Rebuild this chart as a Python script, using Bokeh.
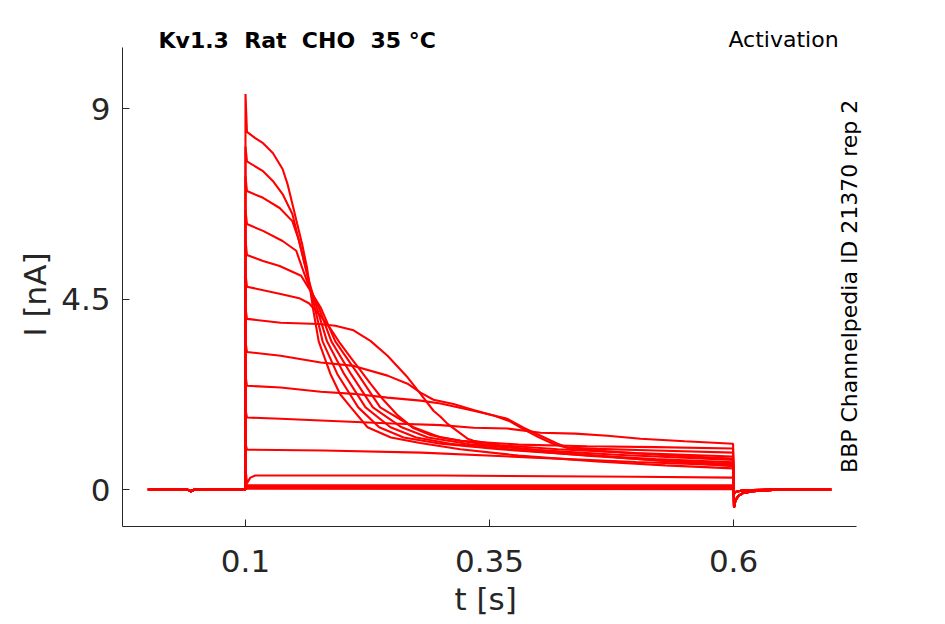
import math
from bokeh.plotting import figure
from bokeh.models import Range1d, FixedTicker, Label, Title
from bokeh.embed import file_html
from bokeh.resources import INLINE

# ---------------- data ----------------
X_TICKS = [0.1, 0.35, 0.6]
X_TICK_LABELS = ["0.1", "0.35", "0.6"]
Y_TICKS = [0, 4.5, 9]
Y_TICK_LABELS = ["0", "4.5", "9"]

# holding segment before the step (shared by all sweeps)
PRE_T = [0.0, 0.040, 0.044, 0.048, 0.0999]
PRE_I = [0.0, 0.0, -0.04, 0.0, 0.0]

# after the step back (t = 0.6 s)
POST_T = [0.6005, 0.602, 0.605, 0.610, 0.620, 0.640, 0.700]
POST_I_BIG = [-0.42, -0.25, -0.15, -0.08, -0.04, -0.01, 0.0]
POST_I_SMALL = [-0.10, -0.06, -0.04, -0.02, -0.01, 0.0, 0.0]

# sweeps during the step (t in s, I in nA)
S1_T = [0.1, 0.1015, 0.110, 0.118, 0.128, 0.138, 0.143, 0.148, 0.153, 0.158, 0.163, 0.169, 0.175, 0.187, 0.197, 0.208, 0.225, 0.249, 0.279, 0.32, 0.38, 0.46, 0.53, 0.5995]
S1_I = [9.34, 8.45, 8.30, 8.18, 7.95, 7.57, 7.22, 6.75, 6.27, 5.80, 5.24, 4.30, 3.50, 2.73, 2.25, 1.94, 1.47, 1.23, 1.10, 0.95, 0.80, 0.66, 0.57, 0.50]

S2_T = [0.1, 0.1015, 0.118, 0.128, 0.138, 0.148, 0.153, 0.158, 0.163, 0.171, 0.179, 0.194, 0.2155, 0.237, 0.262, 0.30, 0.36, 0.44, 0.52, 0.5995]
S2_I = [8.10, 7.75, 7.52, 7.29, 6.98, 6.51, 6.04, 5.57, 5.09, 4.30, 3.50, 2.73, 1.94, 1.47, 1.23, 1.08, 0.95, 0.82, 0.72, 0.64]

S3_T = [0.1, 0.1015, 0.118, 0.135, 0.148, 0.155, 0.160, 0.166, 0.173, 0.1835, 0.201, 0.223, 0.2485, 0.275, 0.31, 0.37, 0.45, 0.53, 0.5995]
S3_I = [7.40, 7.05, 6.89, 6.65, 6.34, 5.87, 5.40, 4.85, 4.30, 3.50, 2.73, 1.94, 1.47, 1.23, 1.08, 0.95, 0.80, 0.68, 0.60]

S4_T = [0.1, 0.1015, 0.118, 0.138, 0.152, 0.158, 0.165, 0.175, 0.188, 0.208, 0.2305, 0.26, 0.287, 0.33, 0.40, 0.48, 0.5995]
S4_I = [6.60, 6.27, 6.11, 5.87, 5.64, 5.24, 4.80, 4.30, 3.50, 2.73, 1.94, 1.47, 1.23, 1.07, 0.93, 0.82, 0.70]

S5_T = [0.1, 0.1015, 0.118, 0.135, 0.157, 0.165, 0.177, 0.192, 0.215, 0.238, 0.272, 0.30, 0.34, 0.41, 0.50, 0.5995]
S5_I = [5.90, 5.54, 5.40, 5.28, 5.05, 4.75, 4.30, 3.50, 2.73, 1.94, 1.47, 1.23, 1.08, 0.90, 0.72, 0.55]

S6_T = [0.1, 0.1015, 0.136, 0.155, 0.165, 0.177, 0.187, 0.197, 0.208, 0.218, 0.228, 0.240, 0.256, 0.272, 0.29, 0.32, 0.38, 0.45, 0.52, 0.5995]
S6_I = [5.10, 4.79, 4.62, 4.52, 4.40, 4.10, 3.80, 3.45, 3.11, 2.81, 2.50, 2.15, 1.75, 1.45, 1.28, 1.15, 1.06, 1.02, 1.00, 0.97]

S7_T = [0.1, 0.1015, 0.136, 0.175, 0.192, 0.2107, 0.228, 0.2455, 0.266, 0.2793, 0.2926, 0.2998, 0.307, 0.3275, 0.3336, 0.36, 0.42, 0.50, 0.5995]
S7_I = [4.30, 4.03, 3.94, 3.91, 3.87, 3.76, 3.51, 3.16, 2.65, 2.26, 1.86, 1.72, 1.55, 1.20, 1.15, 1.05, 0.95, 0.86, 0.78]

S8_T = [0.1, 0.1015, 0.136, 0.177, 0.211, 0.2455, 0.266, 0.2793, 0.2926, 0.3131, 0.3336, 0.355, 0.370, 0.385, 0.400, 0.415, 0.430, 0.47, 0.53, 0.5995]
S8_I = [3.50, 3.25, 3.16, 3.00, 2.92, 2.69, 2.50, 2.29, 2.12, 2.02, 1.88, 1.74, 1.62, 1.42, 1.24, 1.08, 0.98, 0.90, 0.81, 0.73]

S9_T = [0.1, 0.1015, 0.136, 0.177, 0.211, 0.2455, 0.2793, 0.2998, 0.3336, 0.3684, 0.3848, 0.4023, 0.4197, 0.4299, 0.46, 0.52, 0.5995]
S9_I = [2.70, 2.45, 2.41, 2.31, 2.26, 2.17, 2.10, 2.03, 1.86, 1.67, 1.46, 1.27, 1.08, 0.99, 0.96, 0.92, 0.87]

S10_T = [0.1, 0.1015, 0.136, 0.177, 0.25, 0.30, 0.3336, 0.3684, 0.4023, 0.4378, 0.4709, 0.5047, 0.55, 0.5995]
S10_I = [1.90, 1.70, 1.67, 1.63, 1.56, 1.52, 1.46, 1.44, 1.34, 1.32, 1.27, 1.20, 1.14, 1.08]

S11_T = [0.1, 0.1015, 0.18, 0.28, 0.39, 0.50, 0.5995]
S11_I = [1.10, 0.94, 0.92, 0.87, 0.76, 0.65, 0.57]

S12_T = [0.1, 0.1015, 0.105, 0.110, 0.30, 0.50, 0.5995]
S12_I = [0.50, 0.15, 0.28, 0.33, 0.33, 0.30, 0.28]

Z_T = [0.1, 0.1015, 0.5995]
Z1_I = [0.20, 0.10, 0.10]
Z2_I = [0.18, 0.08, 0.07]
Z3_I = [0.15, 0.06, 0.05]
Z4_I = [0.12, 0.04, 0.03]
Z5_I = [0.10, 0.02, 0.01]

BIG = [(S1_T, S1_I), (S2_T, S2_I), (S3_T, S3_I), (S4_T, S4_I), (S5_T, S5_I),
       (S6_T, S6_I), (S7_T, S7_I), (S8_T, S8_I), (S9_T, S9_I), (S10_T, S10_I)]
SMALL = [(S11_T, S11_I), (S12_T, S12_I), (Z_T, Z1_I), (Z_T, Z2_I), (Z_T, Z3_I),
         (Z_T, Z4_I), (Z_T, Z5_I)]

xs, ys = [], []
for t, i in BIG:
    xs.append(PRE_T + t + POST_T)
    ys.append(PRE_I + i + POST_I_BIG)
for t, i in SMALL:
    xs.append(PRE_T + t + POST_T)
    ys.append(PRE_I + i + POST_I_SMALL)

# ---------------- figure ----------------
FONT = "DejaVu Sans"
AX = "#262626"
NB = "\u00a0"
X_AXIS = (-0.026, 0.726)     # visible axis extent
Y_AXIS = (-0.874, 10.441)

# frame extended to the right and top so the annotation texts are not clipped;
# the axes themselves are limited with `bounds`.
p = figure(frame_width=748, frame_height=506,
           min_border_left=122, min_border_top=20, min_border_right=50, min_border_bottom=10,
           x_range=Range1d(X_AXIS[0], 0.7403), y_range=Range1d(Y_AXIS[0], 11.079),
           output_backend="svg", toolbar_location=None)

p.multi_line(xs=xs, ys=ys, line_color="#ff0000", line_width=2.1)

p.xgrid.visible = False
p.ygrid.visible = False
p.outline_line_color = None
p.background_fill_color = "white"
p.border_fill_color = "white"

p.xaxis.ticker = FixedTicker(ticks=X_TICKS)
p.xaxis.major_label_overrides = {k: v for k, v in zip(X_TICKS, X_TICK_LABELS)}
p.yaxis.ticker = FixedTicker(ticks=Y_TICKS)
p.yaxis.major_label_overrides = {k: v for k, v in zip(Y_TICKS, Y_TICK_LABELS)}
p.xaxis.bounds = X_AXIS
p.yaxis.bounds = Y_AXIS

for ax in (p.xaxis, p.yaxis):
    ax.axis_line_color = AX
    ax.major_tick_line_color = AX
    ax.minor_tick_line_color = None
    ax.major_tick_in = 7
    ax.major_tick_out = 0
    ax.major_label_text_font = FONT
    ax.major_label_text_font_size = "31px"
    ax.major_label_text_color = AX

p.xaxis.major_label_standoff = 23
p.yaxis.major_label_standoff = 12

# axis titles placed as side titles so they centre on the visible axes
p.add_layout(Title(text="t [s]", align="left", offset=332, standoff=12,
                   vertical_align="top", text_font=FONT, text_font_size="31px",
                   text_font_style="normal", text_color=AX), "below")
p.add_layout(Title(text="I [nA]", align="left", offset=190, standoff=12,
                   vertical_align="bottom", text_font=FONT, text_font_size="31px",
                   text_font_style="normal", text_color=AX), "left")

p.add_layout(Label(x=0.0109, y=10.607,
                   text="Kv1.3" + NB + " Rat" + NB + " CHO" + NB + " 35 °C",
                   text_font=FONT, text_font_size="22px", text_font_style="bold",
                   text_color="black", text_align="left", text_baseline="middle"))
p.add_layout(Label(x=0.7076, y=10.63, text="Activation",
                   text_font=FONT, text_font_size="22px",
                   text_color="black", text_align="right", text_baseline="middle"))
p.add_layout(Label(x=0.7189, y=4.80, text="BBP Channelpedia ID 21370 rep 2",
                   text_font=FONT, text_font_size="22px", angle=math.pi / 2,
                   text_color="black", text_align="center", text_baseline="middle"))

open("out.html", "w").write(file_html(p, INLINE))
